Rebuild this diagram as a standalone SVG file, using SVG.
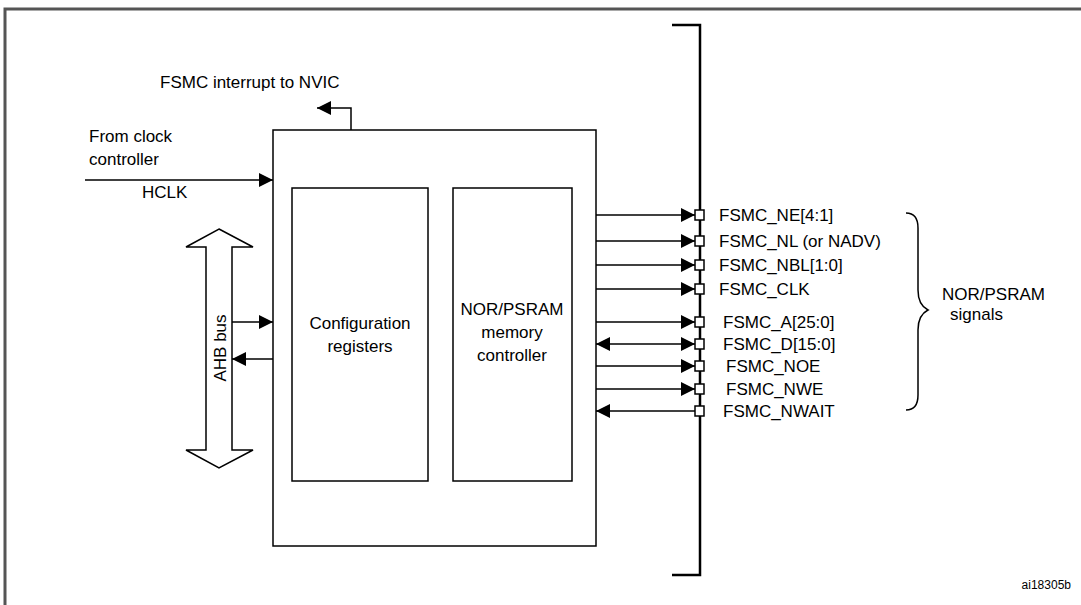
<svg xmlns="http://www.w3.org/2000/svg" width="1081" height="605" viewBox="0 0 1081 605">
<style>
.l{stroke:#000;stroke-width:1.5;fill:none}
.b{stroke:#000;stroke-width:1.5;fill:#fff}
text{font-family:"Liberation Sans",Arial,sans-serif;font-size:17px;fill:#000}
.sq{stroke:#000;stroke-width:1.5;fill:#fff}
</style>
<defs>
<marker id="ab" viewBox="0 0 10 10" refX="10" refY="5" markerWidth="14" markerHeight="14" markerUnits="userSpaceOnUse" orient="auto-start-reverse"><path d="M0,0L10,5L0,10z" fill="#000"/></marker>
</defs>
<rect x="0" y="0" width="1081" height="605" fill="#fff"/>
<path d="M5,605V9H1081" stroke="#555" stroke-width="3" fill="none"/>
<path d="M672,25H700V575H672" stroke="#000" stroke-width="2.5" fill="none"/>
<g id="main"><rect x="273" y="130" width="323" height="416" class="b"/></g>
<g id="config"><rect x="292" y="188" width="136" height="293" class="b"/><text x="360" y="329" text-anchor="middle">Configuration</text><text x="360" y="352" text-anchor="middle">registers</text></g>
<g id="nor"><rect x="453" y="188" width="119" height="293" class="b"/><text x="512" y="315" text-anchor="middle">NOR/PSRAM</text><text x="512" y="338" text-anchor="middle">memory</text><text x="512" y="361" text-anchor="middle">controller</text></g>
<g id="ahb"><path d="M219,229L253,247H232V450H253L219,468L186,450H206V247H186Z" class="b"/><text transform="translate(226,348) rotate(-90)" text-anchor="middle">AHB bus</text></g>
<g id="connectors">
<path d="M85,180H273" class="l" marker-end="url(#ab)"/>
<path d="M351,130V108H317" class="l" marker-end="url(#ab)"/>
<path d="M232,322H273" class="l" marker-end="url(#ab)"/>
<path d="M273,359H232" class="l" marker-end="url(#ab)"/>
<path d="M596,215H695" class="l" marker-end="url(#ab)"/>
<path d="M596,241H695" class="l" marker-end="url(#ab)"/>
<path d="M596,265H695" class="l" marker-end="url(#ab)"/>
<path d="M596,289H695" class="l" marker-end="url(#ab)"/>
<path d="M596,322H695" class="l" marker-end="url(#ab)"/>
<path d="M596,344H695" class="l" marker-start="url(#ab)" marker-end="url(#ab)"/>
<path d="M596,366H695" class="l" marker-end="url(#ab)"/>
<path d="M596,389H695" class="l" marker-end="url(#ab)"/>
<path d="M695,411H596" class="l" marker-end="url(#ab)"/>
</g>
<g id="pins">
<rect x="695" y="210" width="9" height="10" class="sq"/>
<rect x="695" y="236" width="9" height="10" class="sq"/>
<rect x="695" y="260" width="9" height="10" class="sq"/>
<rect x="695" y="284" width="9" height="10" class="sq"/>
<rect x="695" y="317" width="9" height="10" class="sq"/>
<rect x="695" y="339" width="9" height="10" class="sq"/>
<rect x="695" y="361" width="9" height="10" class="sq"/>
<rect x="695" y="384" width="9" height="10" class="sq"/>
<rect x="695" y="406" width="9" height="10" class="sq"/>
</g>
<g id="labels">
<text x="160" y="88">FSMC interrupt to NVIC</text>
<text x="89" y="142">From clock</text>
<text x="89" y="165">controller</text>
<text x="142" y="198">HCLK</text>
<text x="719" y="221">FSMC_NE[4:1]</text>
<text x="719" y="247">FSMC_NL (or NADV)</text>
<text x="719" y="271">FSMC_NBL[1:0]</text>
<text x="719" y="295">FSMC_CLK</text>
<text x="723" y="328">FSMC_A[25:0]</text>
<text x="723" y="350">FSMC_D[15:0]</text>
<text x="726" y="372">FSMC_NOE</text>
<text x="726" y="395">FSMC_NWE</text>
<text x="723" y="417">FSMC_NWAIT</text>
<text x="942" y="300">NOR/PSRAM</text>
<text x="950" y="320">signals</text>
<text x="1071" y="589" text-anchor="end" style="font-size:12px">ai18305b</text>
</g>
<g id="brace"><path d="M906,213Q918,213 918,228V290Q918,305 928,310Q918,315 918,330V395Q918,410 906,410" class="l"/></g>
</svg>
